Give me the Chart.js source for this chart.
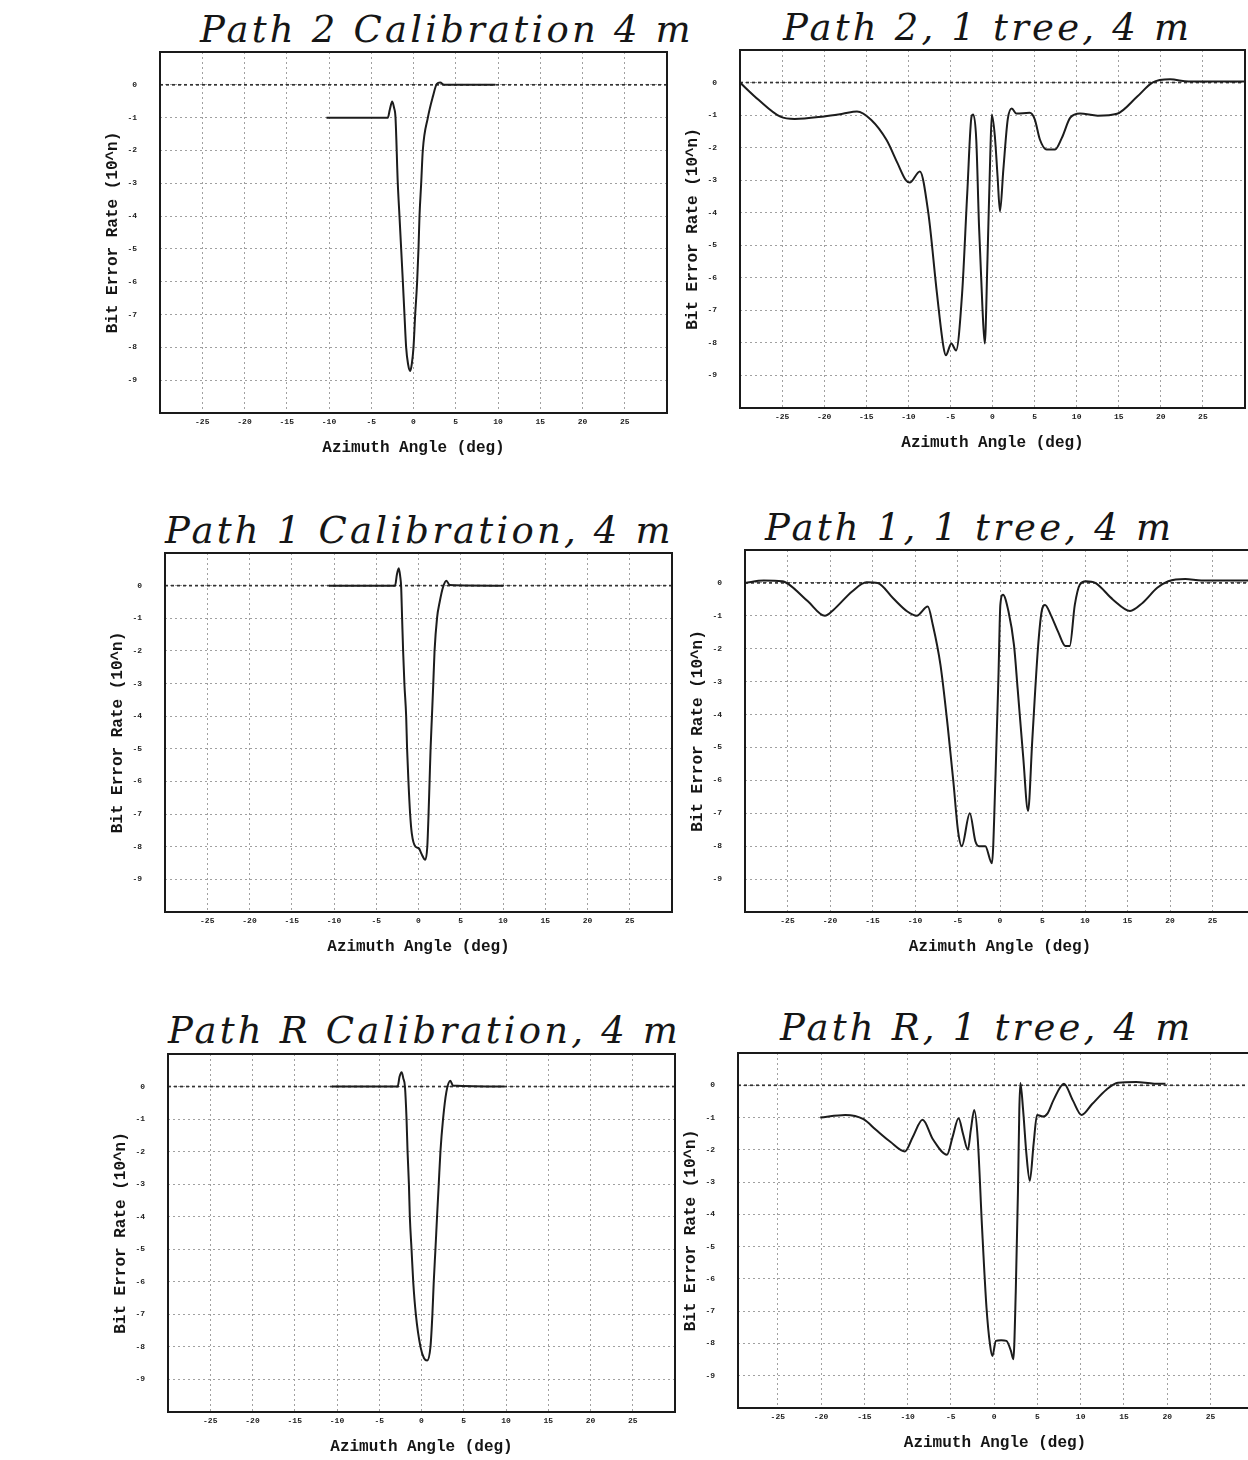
<!DOCTYPE html>
<html>
<head>
<meta charset="utf-8">
<script src="https://cdn.jsdelivr.net/npm/chart.js@4.4.0/dist/chart.umd.min.js"></script>
<style>
    html, body { margin:0; padding:0; background:#fff; }
    body { width:1248px; height:1460px; position:relative; overflow:hidden; }
    .panel { position:absolute; line-height:0; }
    .titulo { position:absolute; font-family:'DejaVu Serif', serif; font-style:italic; font-size:37px; line-height:37px; letter-spacing:3.2px; color:#161616; white-space:nowrap; }
</style>
</head>
<body>
<script>
// datos: angulo (deg) y exponente de la tasa de error
const xTicks = [-25,-20,-15,-10,-5,0,5,10,15,20,25]
const yTicks = [0,-1,-2,-3,-4,-5,-6,-7,-8,-9]
const nivelRef = 0

const titulos = ['Path 2 Calibration 4 m','Path 2, 1 tree, 4 m','Path 1 Calibration, 4 m','Path 1, 1 tree, 4 m','Path R Calibration, 4 m','Path R, 1 tree, 4 m']
const tituloX = 'Azimuth Angle (deg)'
const tituloY = 'Bit Error Rate (10^n)'

const p2CalX = [-10.3,-3.04,-2.8,-2.52,-2.3,-2.13,-1.86,-1.66,-1.46,-1.26,-1.07,-0.87,-0.65,-0.39,-0.2,0,0.2,0.43,0.59,0.71,0.91,1.1,1.7,2.29,2.76,3.15,3.66,9.7]
const p2CalY = [-1,-1,-0.75,-0.51,-0.7,-1,-3,-4,-5,-6,-7,-8,-8.5,-8.72,-8.5,-8,-7,-6,-5,-4,-3,-2,-1,-0.36,0.03,0.07,0,0]

const p2ArbolX = [-30,-27.8,-25.2,-23.5,-20,-17.8,-16.1,-14.4,-12.6,-11.3,-10.3,-9.83,-8.63,-7.63,-6.6,-5.82,-5.54,-4.89,-4.33,-3.61,-3.0,-2.48,-2.29,-1.93,-1.6,-1.2,-0.92,-0.6,-0.28,-0.08,0.28,0.6,0.89,1.29,1.81,2.29,2.82,4.42,5.02,5.63,6.43,7.43,8.24,9.24,10.4,12.5,14.8,17.2,19.0,21.1,23.3,30]
const p2ArbolY = [0,-0.53,-1.05,-1.12,-1.04,-0.96,-0.89,-1.15,-1.76,-2.47,-3.0,-3.07,-2.73,-4.0,-6.48,-8.13,-8.38,-8.02,-8.23,-6.48,-3.4,-1.03,-0.98,-1.75,-4.42,-6.89,-8.02,-5.45,-2.37,-0.98,-1.65,-2.88,-3.96,-2.67,-1.13,-0.8,-0.95,-0.93,-1.13,-1.75,-2.06,-2.06,-1.7,-1.08,-0.95,-1.02,-0.96,-0.43,0,0.1,0.03,0.03]

const p1CalX = [-10.6,-2.77,-2.55,-2.33,-2.15,-2.06,-1.94,-1.82,-1.67,-1.46,-1.35,-1.19,-0.99,-0.79,-0.36,0.05,0.32,0.8,1.04,1.19,1.31,1.43,1.59,1.75,1.9,2.19,2.5,2.9,3.3,3.69,10.0]
const p1CalY = [0,0,0.35,0.53,0.25,0,-1,-2,-3,-4,-5,-6,-7,-7.6,-8,-8.05,-8.2,-8.4,-8,-7,-6,-5,-4,-3,-2,-1,-0.51,-0.05,0.15,0.02,0]

const p1ArbolX = [-30,-27.8,-25.6,-24.8,-22.6,-20.6,-19.6,-17.4,-15.7,-14.4,-12.6,-10.9,-9.8,-8.5,-7.9,-7.0,-6.15,-5.5,-4.93,-4.5,-3.55,-2.9,-2.47,-1.73,-0.95,-0.52,-0.17,0.04,0.35,1.0,1.65,2.08,2.73,3.3,3.8,4.46,4.9,5.3,5.97,6.84,7.7,8.2,8.8,9.4,10.1,11.2,13.3,15.3,16.8,18.5,19.8,21.8,23.7,31]
const p1ArbolY = [0,0.07,0.05,-0.05,-0.56,-1.0,-0.82,-0.26,0.02,0,-0.46,-0.87,-1.0,-0.72,-1.28,-2.5,-4.36,-6.0,-7.55,-8.0,-7.0,-7.85,-8.0,-8.0,-8.52,-5.8,-2.72,-0.67,-0.36,-0.87,-1.9,-3.23,-5.29,-6.93,-4.77,-2.0,-0.87,-0.67,-0.97,-1.49,-1.92,-1.92,-0.67,-0.05,0.05,0,-0.51,-0.85,-0.6,-0.15,0.05,0.12,0.07,0.07]

const pRCalX = [-10.6,-2.82,-2.6,-2.35,-2.15,-1.96,-1.77,-1.65,-1.49,-1.38,-1.18,-0.98,-0.67,-0.12,0.3,0.66,1.06,1.29,1.45,1.65,1.84,2.04,2.24,2.55,2.94,3.41,3.72,9.8]
const pRCalY = [0,0,0.3,0.44,0.25,0,-1,-2,-3,-4,-5,-6,-7,-8,-8.35,-8.42,-8,-7,-6,-5,-4,-3,-2,-1,-0.17,0.18,0.03,0]

const pRArbolX = [-20.1,-17.2,-15.1,-13.7,-12.0,-10.3,-9.4,-8.27,-7.06,-5.45,-4.8,-4.11,-3.6,-3.03,-2.7,-2.3,-1.89,-1.41,-0.88,-0.48,-0.2,0.2,0.81,1.42,1.94,2.22,2.5,2.75,2.91,3.03,3.35,3.72,4.12,4.57,4.96,5.65,6.18,6.86,8.07,9.08,10.1,11.3,13.0,14.3,16.4,18.5,19.8]
const pRArbolY = [-1.0,-0.92,-1.05,-1.37,-1.75,-2.05,-1.6,-1.07,-1.68,-2.15,-1.6,-1.02,-1.5,-2.0,-1.4,-0.77,-1.68,-4.34,-6.9,-8.03,-8.39,-7.92,-7.9,-7.92,-8.23,-8.49,-6.39,-3.32,-0.77,0.07,-0.77,-2.1,-2.96,-1.79,-0.92,-0.97,-0.87,-0.46,0.05,-0.46,-0.92,-0.59,-0.13,0.08,0.1,0.05,0.05]

// caja del grafico en la pagina [izq, arriba, der, abajo], rango x, posicion del titulo
const paneles = [
    { xs:p2CalX,   ys:p2CalY,   caja:[160,52,667,413],    rango:[-30,30],     tit:[200,11] },
    { xs:p2ArbolX, ys:p2ArbolY, caja:[740,50,1245,408],   rango:[-30,30],     tit:[783,9] },
    { xs:p1CalX,   ys:p1CalY,   caja:[165,553,672,912],   rango:[-30,30],     tit:[165,512] },
    { xs:p1ArbolX, ys:p1ArbolY, caja:[745,550,1255,912],  rango:[-30,30],     tit:[765,509] },
    { xs:pRCalX,   ys:pRCalY,   caja:[168,1054,675,1412], rango:[-30,30],     tit:[168,1012] },
    { xs:pRArbolX, ys:pRArbolY, caja:[738,1053,1252,1408],rango:[-29.6,29.8], tit:[780,1009] },
]

const anchoEjeY = 57
const altoEjeX = 45
const padTop = 4
const padRight = 4

const marco = {
    id:'marco',
    afterDatasetsDraw(chart){
        let ctx = chart.ctx
        let a = chart.chartArea
        ctx.save()
        ctx.lineWidth = 2
        ctx.strokeStyle = '#1a1a1a'
        ctx.strokeRect(a.left, a.top, a.right-a.left, a.bottom-a.top)
        ctx.restore()
    }
}

paneles.forEach((p,i)=>{
    let t = document.createElement('div')
    t.className = 'titulo'
    t.style.left = p.tit[0]+'px'
    t.style.top = p.tit[1]+'px'
    t.textContent = titulos[i]
    document.body.appendChild(t)

    let w = (p.caja[2]-p.caja[0]) + anchoEjeY + padRight
    let h = (p.caja[3]-p.caja[1]) + padTop + altoEjeX
    let div = document.createElement('div')
    div.className = 'panel'
    div.style.left = (p.caja[0]-anchoEjeY)+'px'
    div.style.top = (p.caja[1]-padTop)+'px'
    let canvas = document.createElement('canvas')
    canvas.width = w
    canvas.height = h
    div.appendChild(canvas)
    document.body.appendChild(div)

    let puntos = p.xs.map((x,k)=>({x:x, y:p.ys[k]}))

    new Chart(canvas,{
        type:'line',
        data:{
            datasets:[{
                data:puntos,
                borderColor:'#1c1c1c',
                borderWidth:2,
                pointRadius:0,
                cubicInterpolationMode:'monotone',
                fill:false,
            },
            {
                data:[{x:p.rango[0],y:nivelRef},{x:p.rango[1],y:nivelRef}],
                borderColor:'#333',
                borderWidth:1.7,
                borderDash:[3,3],
                pointRadius:0,
                fill:false,
            }]
        },
        options:{
            responsive:false,
            animation:false,
            layout:{ padding:{ left:0, top:padTop, right:padRight, bottom:0 } },
            plugins:{ legend:{display:false}, tooltip:{enabled:false} },
            scales:{
                x:{
                    type:'linear',
                    min:p.rango[0],
                    max:p.rango[1],
                    afterBuildTicks: s => { s.ticks = xTicks.map(v=>({value:v})) },
                    afterFit: s => { s.height = altoEjeX; s.paddingLeft = 0; s.paddingRight = 0 },
                    grid:{ color:'#a0a0a0', lineWidth:1, drawTicks:false },
                    border:{ display:false, dash:[2,3] },
                    ticks:{ font:{family:'Liberation Mono', size:8, weight:'bold'}, color:'#222', padding:4, maxRotation:0, autoSkip:false },
                    title:{ display:true, text:tituloX, font:{family:'Liberation Mono', size:16, weight:'bold'}, color:'#151515', padding:0 },
                },
                y:{
                    type:'linear',
                    min:-10,
                    max:1,
                    afterBuildTicks: s => { s.ticks = yTicks.map(v=>({value:v})) },
                    afterFit: s => { s.width = anchoEjeY; s.paddingTop = 0; s.paddingBottom = 0 },
                    grid:{ color:'#a0a0a0', lineWidth:1, drawTicks:false },
                    border:{ display:false, dash:[2,3] },
                    ticks:{ font:{family:'Liberation Mono', size:8, weight:'bold'}, color:'#222', padding:23, autoSkip:false },
                    title:{ display:true, text:tituloY, font:{family:'Liberation Mono', size:16, weight:'bold'}, color:'#151515', padding:0 },
                },
            },
        },
        plugins:[marco]
    })
})
</script>
</body>
</html>
